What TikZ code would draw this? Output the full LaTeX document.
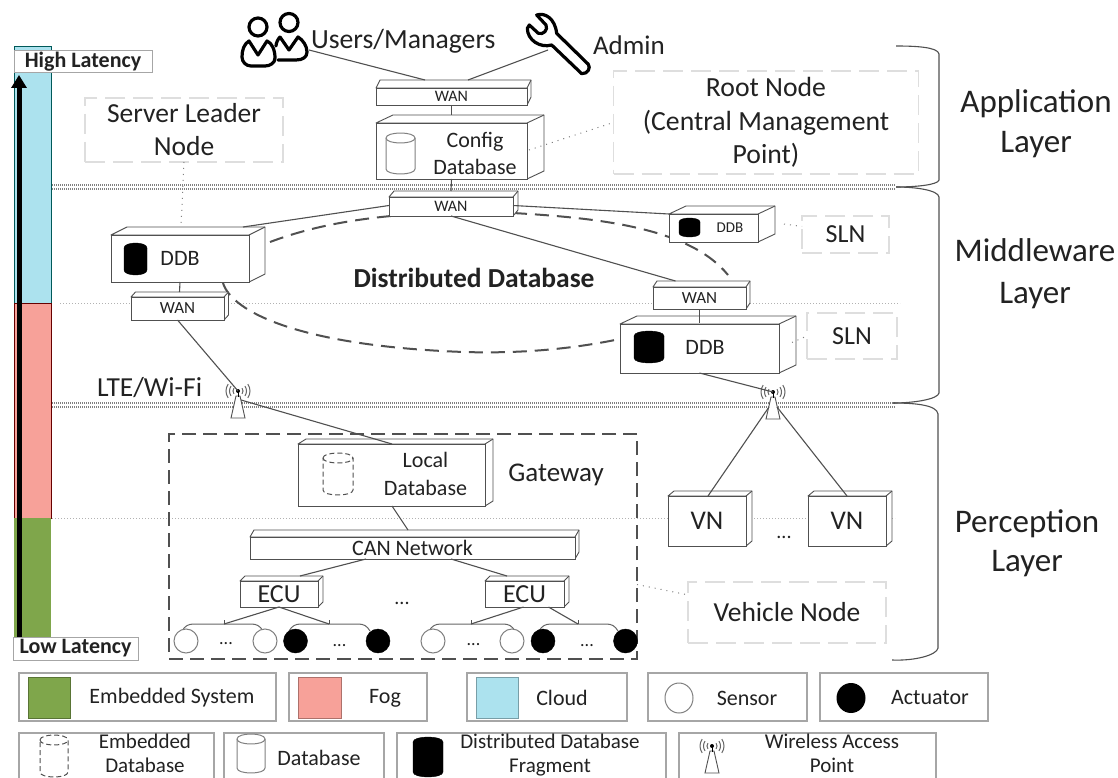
\documentclass[tikz,border=0pt]{standalone}
\usepackage{fontspec}
\setmainfont{Carlito}
\usetikzlibrary{calc,arrows.meta}
\definecolor{cloudc}{HTML}{ACE2EE}
\definecolor{fogc}{HTML}{F7A199}
\definecolor{embc}{HTML}{7FA64B}
\definecolor{edge}{HTML}{505050}
\definecolor{txt}{HTML}{222222}
\definecolor{ghost}{HTML}{DEDEDE}
\tikzset{
 front/.style={draw=edge,line width=.9pt,fill=white,rectangle,inner sep=0pt,outer sep=0pt,text=txt},
 side/.style={draw=edge,line width=.9pt,fill=white,line join=round},
 conn/.style={draw=edge,line width=1.1pt},
 ghostbox/.style={draw=ghost,line width=1.1pt,dash pattern=on 20pt off 8pt,rectangle,inner sep=0pt,outer sep=0pt,text=txt,align=center},
 dotline/.style={draw=gray,line width=1pt,dash pattern=on 1pt off 5pt},
 layerline/.style={draw=gray,line width=1.2pt,dash pattern=on 1pt off 1pt},
 midline/.style={draw=gray!60,line width=1pt,dash pattern=on 1pt off 2pt},
 ring/.style={draw=edge,line width=2pt,dash pattern=on 14pt off 8pt},
 brace/.style={draw=edge,line width=1.1pt},
 label/.style={text=txt,inner sep=0pt,outer sep=0pt,align=center},
 legbox/.style={draw=gray!70,line width=1.2pt},
 sensor/.style={circle,draw=gray,line width=1pt,fill=white,minimum size=24pt,inner sep=0pt},
 actuator/.style={circle,draw=black,fill=black,minimum size=24pt,inner sep=0pt},
 icon/.style={draw=black,line width=3.2pt,line join=round,line cap=round},
}
\newcommand{\fsz}[2]{\fontsize{#1}{#2}\selectfont}
% name x1 y1 x2 y2 dx dy text
\newcommand{\mybox}[8]{%
 \draw[side] (#2,#3) -- (#2+#6,#3-#7) -- (#4+#6,#3-#7) -- (#4+#6,#5-#7) -- (#4,#5) -- (#4,#3) -- cycle;
 \draw[side] (#4,#3) -- (#4+#6,#3-#7);
 \node[front,minimum width=#4pt-#2pt,minimum height=#5pt-#3pt] (#1) at ({(#2+#4)/2},{(#3+#5)/2}) {#8};
}
\newcommand{\cylinder}[6]{% x1 x2 ytop ybottom cap style
 \draw[#6] (#1,#3+#5) .. controls (#1,#3-.33*#5) and (#2,#3-.33*#5) .. (#2,#3+#5)
   -- (#2,#4-#5) .. controls (#2,#4+.33*#5) and (#1,#4+.33*#5) .. (#1,#4-#5) -- cycle;
 \draw[#6] (#1,#3+#5) .. controls (#1,#3+2.33*#5) and (#2,#3+2.33*#5) .. (#2,#3+#5);
}
\newcommand{\myant}[3]{% name cx cy(wave centre)
 \coordinate (#1) at (#2,#3);
 \draw[draw=edge,line width=.9pt,fill=white] (#2-2,#3+5) -- (#2+2,#3+5) -- (#2+7,#3+27) -- (#2-7,#3+27) -- cycle;
 \foreach \r in {5,8.5,12}{
  \draw[draw=gray!80!black,line width=1pt] ($(#2,#3)+(145:\r pt and -\r pt)$) arc[start angle=-145,end angle=-215,radius=\r pt];
  \draw[draw=gray!80!black,line width=1pt] ($(#2,#3)+(35:\r pt and -\r pt)$) arc[start angle=-35,end angle=35,radius=\r pt];
 }
 \fill[black] (#2,#3) circle (2pt);
 \draw[black,line width=1pt] (#2,#3) -- (#2,#3+6);
}
\newcommand{\brk}[3]{% x1 x2 tick
 \draw[draw=gray!80!black,line width=1pt] (#1,631) .. controls (#1+3,626) and (#1+6,624) .. (#1+12,624) -- (#2-12,624) .. controls (#2-6,624) and (#2-3,626) .. (#2,631);
 \draw[draw=edge,line width=1pt] (#3,620) -- (#3,624);
}
\begin{document}
\begin{tikzpicture}[x=1pt,y=-1pt]
\useasboundingbox (0,0) rectangle (1118,778);
\fill[white] (0,0) rectangle (1118,778);

% latency bar
\fill[cloudc,draw=teal!70!black,line width=.6pt] (14,46) rectangle (51,303);
\fill[fogc,draw=red!40!black,line width=.6pt] (14,303) rectangle (51,518);
\fill[embc] (14,518) rectangle (51,637);

% layer separators
\foreach \yy in {185,189,403,407}{\draw[layerline] (52,\yy) -- (895,\yy);}
\draw[midline] (60,303) -- (900,303);
\draw[midline] (52,518) -- (895,518);

% braces
\draw[brace] (896,46) .. controls (915,46) and (938,47) .. (939,54) -- (939,180) .. controls (938,185) and (915,187) .. (896,187);
\draw[brace] (896,187) .. controls (915,187) and (938,190) .. (939,197) -- (939,393) .. controls (938,399) and (915,403) .. (893,403);
\draw[brace] (893,403) .. controls (915,403) and (937,405) .. (938,414) -- (938,648) .. controls (937,655) and (915,661) .. (892,660);

% distributed database ring
\coordinate (ra) at (270,242); \coordinate (rb) at (391,216);
\coordinate (rc) at (513,213); \coordinate (rd) at (728,275);
\coordinate (re) at (223,283); \coordinate (rf) at (615,340);
\draw[ring] (ra) .. controls (310,227) and (350,220) .. (rb);
\draw[ring] (rc) .. controls (600,218) and (690,228) .. (rd);
\draw[ring] (re) .. controls (232,312) and (300,346) .. (464,352) .. controls (530,354) and (580,347) .. (rf);

% ghost labels
\node[ghostbox,minimum width=198pt,minimum height=64pt,font=\fsz{27.5}{33}] (sln0) at (184,130) {Server Leader\\Node};
\node[ghostbox,minimum width=305pt,minimum height=103pt,font=\fsz{27.7}{33.5}] (root) at (766,122.5) {Root Node\\(Central Management\\Point)};
\node[ghostbox,minimum width=87pt,minimum height=37pt,font=\fsz{26}{30}] (sln1) at (845.5,234.5) {SLN};
\node[ghostbox,minimum width=90pt,minimum height=46pt,font=\fsz{26}{30}] (sln2) at (852,336) {SLN};
\node[ghostbox,minimum width=198pt,minimum height=61pt,font=\fsz{27.5}{30}] (vehicle) at (787,612.5) {Vehicle Node};

% top boxes
\mybox{wan1}{376}{88}{527}{105}{4}{8}{\fsz{16}{18}WAN}
\mybox{config}{376}{123}{527}{179}{17}{8}{}
\cylinder{386}{415}{133}{174}{5}{draw=gray,line width=1pt,fill=white}
\node[label,font=\fsz{22}{27}] (configt) at (475,153.5) {Config\\Database};
\mybox{wan2}{389}{197}{513}{216}{5}{6}{\fsz{16}{18}WAN}
\mybox{ddba}{111}{235}{249}{282}{16}{8}{}
\cylinder{124}{147}{243}{275}{5}{draw=black,fill=black}
\node[label,font=\fsz{22}{26}] (ddbat) at (180,258) {DDB};
\mybox{wan3}{131}{297}{224}{320}{4.5}{5}{\fsz{17}{19}WAN}
\mybox{ddbs}{669}{214}{758}{242}{17}{8}{}
\cylinder{679}{700}{218}{237}{4}{draw=black,fill=black}
\node[label,font=\fsz{15}{17}] (ddbst) at (730,228) {DDB};
\mybox{wan4}{653}{287}{746}{309}{4}{6}{\fsz{17}{19}WAN}
\mybox{ddbb}{620}{324}{779}{373}{17}{8}{}
\cylinder{634}{664}{331}{363}{5}{draw=black,fill=black}
\node[label,font=\fsz{22}{26}] (ddbbt) at (705,347) {DDB};

% gateway
\node[draw=edge,line width=1.6pt,dash pattern=on 14pt off 7pt,rectangle,minimum width=468pt,minimum height=225pt,inner sep=0pt,outer sep=0pt] (gateway) at (403,546.5) {};
\mybox{local}{298}{444}{485}{506}{8}{5}{}
\cylinder{323}{353}{453}{495}{5}{draw=edge,line width=1pt,dash pattern=on 5pt off 3pt}
\node[label,font=\fsz{22}{28}] (localt) at (425.5,474) {Local\\Database};
\node[label,font=\fsz{27}{30}] (gatewayt) at (556,475) {Gateway};
\mybox{can}{250}{537}{575}{559}{4}{7}{\fsz{22}{24}CAN Network}
\mybox{ecua}{240}{581}{318}{607}{5}{5}{\fsz{26}{28}ECU}
\mybox{ecub}{485}{581}{564}{607}{5}{5}{\fsz{26}{28}ECU}
\node[label,font=\fsz{20}{22}] (dotsmid) at (402,603) {...};

% sensors and actuators
\brk{182}{263}{224}\brk{289}{370}{329}\brk{429}{515}{471}\brk{539}{618}{578}
\node[sensor] (s1) at (186,641) {};
\node[sensor] (s2) at (265,641) {};
\node[actuator] (a1) at (295.5,641) {};
\node[actuator] (a2) at (378,641) {};
\node[sensor] (s3) at (433,641) {};
\node[sensor] (s4) at (512,641) {};
\node[actuator] (a3) at (543,641) {};
\node[actuator] (a4) at (625.5,641) {};
\node[label,font=\fsz{18}{20}] (d1) at (226,644) {...};
\node[label,font=\fsz{18}{20}] (d2) at (339.5,646) {...};
\node[label,font=\fsz{18}{20}] (d3) at (473.5,645) {...};
\node[label,font=\fsz{18}{20}] (d4) at (587,646) {...};

% VN
\mybox{vna}{668}{496}{746}{546}{6}{5}{\fsz{27}{30}VN}
\mybox{vnb}{808}{496}{886}{546}{6}{5}{\fsz{27}{30}VN}
\node[label,font=\fsz{20}{22}] (dotsvn) at (784,537) {...};

% antennas
\myant{anta}{238}{391}
\myant{antb}{773}{392}

% connectors
\node[label,font=\fsz{27.7}{30},anchor=west] (users) at (311,41) {Users/Managers};
\node[label,font=\fsz{27}{30},anchor=west] (admin) at (593,45) {Admin};
\coordinate (usr) at (309,50); \coordinate (adm) at (548,50);
\draw[conn] (usr) -- ($(wan1.north west)+(49,-8)$);
\draw[conn] (adm) -- ($(wan1.north west)+(92,-8)$);
\draw[conn] (wan1.south) -- ($(config.north)+(0,-8)$);
\draw[conn] (config.south) -- ($(wan2.north)+(0,-6)$);
\draw[conn] ($(wan2.west)+(0,-1)$) -- ($(ddba.north east)+(-6,-8)$);
\draw[conn] ($(wan2.east)+(0,-1)$) -- (ddbs.north west);
\draw[conn] (wan2.south) -- ($(wan4.north)+(-24,-6)$);
\draw[conn] (ddba.south) -- ($(wan3.north)+(2,-5)$);
\draw[conn] (wan3.south) -- (anta);
\draw[conn] ($(wan4.south)+(0,0)$) -- ($(ddbb.north)+(0,-1)$);
\draw[conn] ($(ddbb.south)+(0,0)$) -- (antb);
\draw[conn] ($(anta)+(3,9)$) -- ($(local.north west)+(94,0)$);
\draw[conn] ($(local.south west)+(94,0)$) -- ($(can.north west)+(158,-7)$);
\draw[conn] ($(can.south west)+(116,0)$) -- ($(ecua.north east)+(-18,-5)$);
\draw[conn] ($(can.south west)+(201,0)$) -- ($(ecub.north west)+(22,-5)$);
\coordinate (t1) at (224,624); \coordinate (t2) at (329,624); \coordinate (t3) at (471,624); \coordinate (t4) at (578,624);
\draw[conn] (ecua.south) -- (t1);
\draw[conn] (ecua.south) -- (t2);
\draw[conn] ($(ecub.south)+(-1,0)$) -- (t3);
\draw[conn] ($(ecub.south)+(24,0)$) -- (t4);
\draw[conn] ($(antb)+(-4,15)$) -- ($(vna.north)+(1,0)$);
\draw[conn] ($(antb)+(4,15)$) -- ($(vnb.north)+(0,0)$);

% dotted relations
\draw[dotline] (sln0.south) -- ($(ddba.north west)+(70,-8)$);
\draw[dotline] ($(config.east)+(2,-1)$) -- (root.west);
\draw[dotline] ($(ddbs.east)+(26,-4)$) -- ($(sln1.west)+(0,-8)$);
\draw[dotline] ($(ddbb.east)+(13,-6)$) -- (sln2.west);
\draw[dotline] ($(gateway.east)+(0,38)$) -- ($(vehicle.west)+(-2,-18)$);

% people icon
\draw[icon] (258,27) circle (9pt);
\draw[icon] (289,22.5) circle (9pt);
\draw[icon] (249,41) -- (258,55) -- (267,41) .. controls (272,43) and (275,50) .. (275,58) .. controls (275,63) and (270,66) .. (265,66) -- (251,66) .. controls (246,66) and (242,62) .. (242,57) .. controls (242,50) and (244,44) .. (249,41) -- cycle;
\draw[icon] (280,37) -- (289,50) -- (298,37) .. controls (303,40) and (307,46) .. (307,52) .. controls (307,57) and (303,60) .. (296,60) -- (278,60);
\draw[icon] (276,46) .. controls (276,43) and (278,39) .. (280,37);

% wrench icon
\begin{scope}[shift={(520,5)},x=.3333pt,y=-.3333pt]
\draw[icon] (50,30) .. controls (75,22) and (105,40) .. (110,85) -- (205,178) .. controls (212,188) and (205,207) .. (185,206) -- (95,120) .. controls (60,130) and (22,105) .. (22,70) -- (28,60) -- (55,85) .. controls (70,90) and (85,75) .. (78,60) -- cycle;
\end{scope}

% latency labels
\coordinate (lowp) at (19,637);
\coordinate (highp) at (19,75);
\draw[black,line width=5pt,-{Triangle[width=15pt,length=13pt]}] (lowp) -- (highp);
\node[draw=gray!70,line width=1pt,fill=white,minimum width=138pt,minimum height=22pt,inner sep=0pt,font=\bfseries\fsz{22}{24},text=txt] (high) at (83,62) {High Latency};
\node[draw=gray!70,line width=1pt,fill=white,minimum width=125pt,minimum height=23pt,inner sep=0pt,font=\bfseries\fsz{22}{24},text=txt] (low) at (75.5,648.5) {Low Latency};

\node[label,font=\fsz{27.5}{30},anchor=west] (lte) at (97,388) {LTE/Wi-Fi};
\node[label,font=\bfseries\fsz{27.5}{30}] (dist) at (474,278) {Distributed Database};
\node[label,font=\fsz{33}{40}] (applayer) at (1036,124) {Application\\Layer};
\node[label,font=\fsz{33}{42}] (midlayer) at (1035,274) {Middleware\\Layer};
\node[label,font=\fsz{33}{39}] (perlayer) at (1027,543.5) {Perception\\Layer};

% legend row 1
\node[draw=gray!70,line width=1.2pt,minimum width=257pt,minimum height=48pt,inner sep=0pt] (l1) at (147.5,697) {};
\draw[draw=embc!70!black,fill=embc,line width=.6pt] (28,677) rectangle (70,718);
\node[label,font=\fsz{22}{24}] (l1t) at (172,698) {Embedded System};
\node[draw=gray!70,line width=1.2pt,minimum width=138pt,minimum height=48pt,inner sep=0pt] (l2) at (358,697) {};
\draw[draw=fogc!70!black,fill=fogc,line width=.6pt] (298.5,677) rectangle (341,718);
\node[label,font=\fsz{22}{24}] (l2t) at (385,698) {Fog};
\node[draw=gray!70,line width=1.2pt,minimum width=160pt,minimum height=48pt,inner sep=0pt] (l3) at (547,697) {};
\draw[draw=cloudc!70!black,fill=cloudc,line width=.6pt] (476,677) rectangle (518,718);
\node[label,font=\fsz{22}{24}] (l3t) at (562,698) {Cloud};
\node[draw=gray!70,line width=1.2pt,minimum width=159pt,minimum height=48pt,inner sep=0pt] (l4) at (727.5,697) {};
\draw[draw=gray,line width=1pt] (679,698) ellipse (14pt and 15pt);
\node[label,font=\fsz{22}{24}] (l4t) at (747,698) {Sensor};
\node[draw=gray!70,line width=1.2pt,minimum width=168pt,minimum height=48pt,inner sep=0pt] (l5) at (904,697) {};
\fill[black] (851,698) ellipse (14.5pt and 15pt);
\node[label,font=\fsz{22}{24}] (l5t) at (930,698) {Actuator};

% legend row 2 (cut by the picture's lower edge)
\draw[legbox] (19,778) -- (19,733) -- (214,733) -- (214,778);
\cylinder{40}{68}{735}{777}{5}{draw=edge,line width=1pt,dash pattern=on 5pt off 3pt}
\node[label,font=\fsz{21}{24},anchor=north] (m1t) at (145,734) {Embedded\\Database};
\draw[legbox] (224,778) -- (224,733) -- (384,733) -- (384,778);
\cylinder{237}{265}{734}{773}{5}{draw=gray,line width=1pt}
\node[label,font=\fsz{22}{24}] (m2t) at (319,758) {Database};
\draw[legbox] (397,778) -- (397,733) -- (666,733) -- (666,778);
\cylinder{413}{443}{737}{777}{5}{draw=black,fill=black}
\node[label,font=\fsz{21}{24},anchor=north] (m3t) at (550,734) {Distributed Database\\Fragment};
\draw[legbox] (679,778) -- (679,733) -- (936,733) -- (936,778);
\myant{antl}{712}{746}
\node[label,font=\fsz{21}{24},anchor=north] (m4t) at (832,734) {Wireless Access\\Point};
\end{tikzpicture}
\end{document}
